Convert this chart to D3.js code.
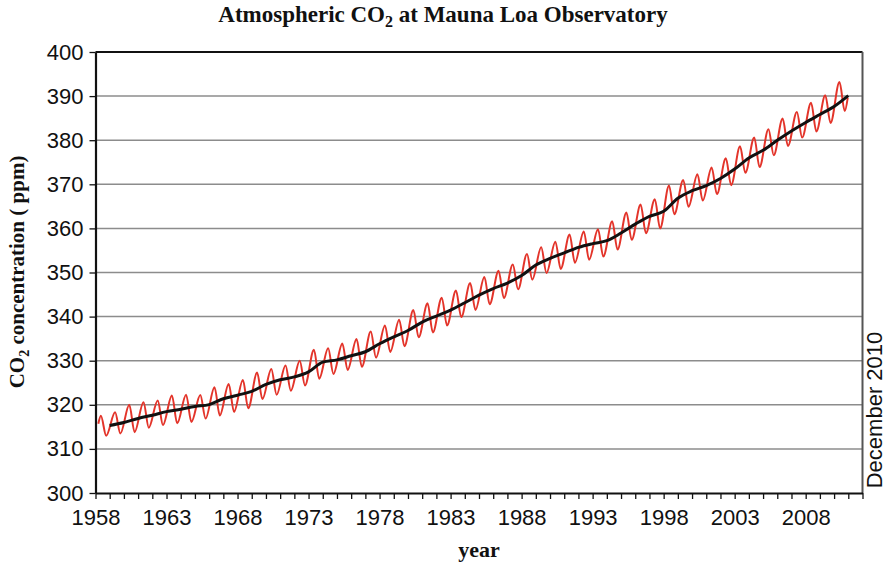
<html>
<head>
<meta charset="utf-8">
<title>Atmospheric CO2 at Mauna Loa</title>
<script src="https://d3js.org/d3.v7.min.js"></script>
<style>
  body { margin: 0; background: #fff; }
  .grid line { stroke: #8c8c8c; stroke-width: 1.5px; }
  .axis path, .axis line { stroke: #111; }
  .axis path { stroke-width: 2.2px; }
  .axis line { stroke-width: 1.3px; }
  .axis text { font-family: "Liberation Sans", Arial, sans-serif; font-size: 22px; fill: #111; }
  .seasonal { fill: none; stroke: #e3342a; stroke-width: 2px; }
  .trend { fill: none; stroke: #111; stroke-width: 3px; }
  .serif { font-family: "Liberation Serif", "Times New Roman", serif; font-weight: bold; fill: #111; }
</style>
</head>
<body>
<script>
// years 1958..2010
var years = d3.range(1958, 2011);

// annual means (ppm), plotted as trailing 12-month average at the end of each year
var annualMean = [315.3, 315.98, 316.91, 317.64, 318.45, 318.99, 319.62, 320.04, 321.37, 322.18,
  323.05, 324.62, 325.68, 326.32, 327.46, 329.68, 330.19, 331.12, 332.03, 333.84,
  335.41, 336.84, 338.76, 340.12, 341.48, 343.15, 344.87, 346.35, 347.61, 349.31,
  351.69, 353.20, 354.45, 355.70, 356.54, 357.21, 358.96, 360.97, 362.74, 363.88,
  366.84, 368.54, 369.71, 371.32, 373.45, 375.98, 377.70, 379.98, 382.09, 384.02,
  385.83, 387.64, 390.10];

// monthly record: spring maximum (May) and autumn minimum (Oct) of each year
var mayPeak = [317.5, 318.3, 320.0, 320.6, 321.0, 322.1, 322.3, 322.2, 324.0, 324.7,
  325.6, 327.3, 328.1, 328.9, 330.0, 332.5, 332.8, 333.9, 334.9, 336.6,
  338.0, 339.3, 341.5, 343.0, 344.3, 345.9, 347.6, 349.0, 350.4, 351.8,
  354.2, 355.7, 357.0, 358.6, 359.3, 359.8, 361.6, 363.6, 365.4, 366.6,
  369.7, 371.0, 372.3, 373.8, 375.9, 378.6, 380.6, 382.5, 384.9, 386.4,
  388.5, 390.2, 393.2];
var autumnLow = [313.0, 313.5, 313.8, 314.8, 315.4, 315.8, 316.1, 316.9, 317.6, 318.4,
  319.2, 321.3, 322.3, 323.2, 324.4, 325.9, 327.0, 327.9, 328.6, 330.7,
  332.0, 333.3, 335.3, 336.4, 338.0, 339.9, 341.5, 342.8, 344.2, 346.2,
  348.4, 349.9, 350.8, 352.2, 352.9, 353.6, 355.2, 357.4, 358.9, 360.0,
  363.2, 364.9, 366.3, 367.8, 369.8, 372.6, 373.9, 376.6, 378.7, 380.6,
  382.0, 383.9, 386.6];
// first (March 1958) and last (December 2010) monthly values
var firstMonth = {t: 1958.2, v: 315.7};
var lastMonth = {t: 2010.96, v: 389.6};

var yTicks = d3.range(300, 401, 10);
var xLabelYears = d3.range(1958, 2009, 5);

var W = 886, H = 565;
var plotL = 95.5, plotR = 862.5, plotT = 52, plotB = 493;

var x = d3.scaleLinear().domain([1958, 2012]).range([plotL, plotR]);
var y = d3.scaleLinear().domain([300, 400]).range([plotB, plotT]);

var svg = d3.select("body").append("svg")
  .attr("width", W).attr("height", H);

// build series
var monthly = [firstMonth];
years.forEach(function (yr, i) {
  monthly.push({t: yr + 0.38, v: mayPeak[i]});
  monthly.push({t: yr + 0.75, v: autumnLow[i]});
});
monthly.push(lastMonth);

var trend = years.map(function (yr, i) { return {t: yr + 1, v: annualMean[i]}; });

// gridlines
svg.append("g").attr("class", "grid")
  .selectAll("line").data(yTicks.filter(function (d) { return d > 300 && d < 400; }))
  .enter().append("line")
  .attr("x1", plotL).attr("x2", plotR)
  .attr("y1", function (d) { return y(d); })
  .attr("y2", function (d) { return y(d); });

// frame: top black, right grey
svg.append("line").attr("x1", plotL).attr("x2", plotR).attr("y1", plotT).attr("y2", plotT)
  .attr("stroke", "#111").attr("stroke-width", 2.2);
svg.append("line").attr("x1", plotR).attr("x2", plotR).attr("y1", plotT).attr("y2", plotB)
  .attr("stroke", "#555").attr("stroke-width", 2);

// lines
var line = d3.line()
  .x(function (d) { return x(d.t); })
  .y(function (d) { return y(d.v); })
  .curve(d3.curveMonotoneX);

svg.append("path").datum(monthly).attr("class", "seasonal").attr("d", line);
svg.append("path").datum(trend).attr("class", "trend").attr("d", line);

// axes
svg.append("g").attr("class", "axis")
  .attr("transform", "translate(" + plotL + ",0)")
  .call(d3.axisLeft(y).tickValues(yTicks).tickSize(6).tickPadding(6).tickSizeOuter(0));

svg.append("g").attr("class", "axis")
  .attr("transform", "translate(0," + plotB + ")")
  .call(d3.axisBottom(x).tickValues(d3.range(1958, 2013)).tickSize(6).tickPadding(10).tickSizeOuter(0)
    .tickFormat(function (d) { return xLabelYears.indexOf(d) >= 0 ? d : ""; }));

// title
var title = svg.append("text").attr("class", "serif")
  .attr("x", 443).attr("y", 22).attr("text-anchor", "middle").style("font-size", "23px");
title.append("tspan").text("Atmospheric CO");
title.append("tspan").attr("dy", 5).style("font-size", "16px").text("2");
title.append("tspan").attr("dy", -5).text(" at Mauna Loa Observatory");

// y label
var ylab = svg.append("text").attr("class", "serif")
  .attr("transform", "translate(24,272) rotate(-90)")
  .attr("text-anchor", "middle").style("font-size", "21px");
ylab.append("tspan").text("CO");
ylab.append("tspan").attr("dy", 5).style("font-size", "14px").text("2");
ylab.append("tspan").attr("dy", -5).text(" concentration ( ppm)");

// x label
svg.append("text").attr("class", "serif")
  .attr("x", 479).attr("y", 557).attr("text-anchor", "middle").style("font-size", "22px")
  .text("year");

// date note
svg.append("text")
  .attr("transform", "translate(882,410) rotate(-90)")
  .attr("text-anchor", "middle")
  .style("font-family", "Liberation Sans, Arial, sans-serif").style("font-size", "22px")
  .attr("fill", "#111")
  .text("December 2010");
</script>
</body>
</html>
